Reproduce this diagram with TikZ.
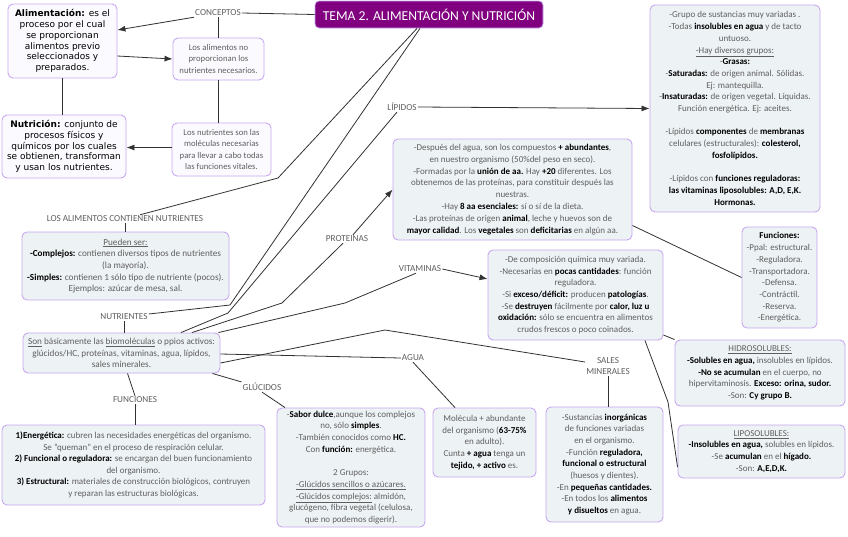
\documentclass[tikz,border=0pt]{standalone}
\usepackage{fontspec}
\setmainfont{Carlito}
\newfontfamily\vfont{DejaVu Sans}
\usetikzlibrary{arrows.meta}
\definecolor{boxb}{RGB}{200,168,240}
\definecolor{boxf}{RGB}{237,242,244}
\definecolor{wfill}{RGB}{251,250,254}
\definecolor{txt}{RGB}{95,95,95}
\definecolor{lnc}{RGB}{50,50,50}
\definecolor{ttl}{RGB}{128,0,128}
\newcommand{\bb}[1]{\textbf{\textcolor{black}{#1}}}
\begin{document}
\begin{tikzpicture}[x=1pt,y=-1pt,
  box/.style={draw=boxb, fill=boxf, rounded corners=5pt, line width=0.9pt, align=center, inner sep=0pt, text=txt, font={\fontsize{9}{11.6}\selectfont}},
  wbox/.style={box, fill=wfill, text=black, font={\vfont\fontsize{9}{10.8}\selectfont}},
  gbox/.style={box, fill=wfill, font={\fontsize{8.7}{11.5}\selectfont}},
  tbox/.style={draw=boxb, fill=ttl, rounded corners=4pt, line width=0.8pt, text=white, inner sep=0pt, font={\fontsize{13.6}{15}\selectfont}},
  lab/.style={text=txt, inner sep=1pt, align=center, font={\fontsize{9.2}{11.5}\selectfont}},
  conn/.style={draw=lnc, line width=0.8pt},
  arr/.style={conn, -{Latex[length=8pt,width=6pt]}}]
\useasboundingbox (0,0) rectangle (848,536);
\fill[white] (0,0) rectangle (848,536);

% title and labels
\node[tbox, minimum width=228pt, minimum height=27pt] (title) at (429,14.5) {TEMA 2. ALIMENTACIÓN Y NUTRICIÓN};
\node[lab] (concep) at (218,13) {CONCEPTOS};
\node[lab] (liplab) at (402,107) {LÍPIDOS};
\node[lab] (losal) at (125,219) {LOS ALIMENTOS CONTIENEN NUTRIENTES};
\node[lab] (nutlab) at (124,317) {NUTRIENTES};
\node[lab] (protlab) at (347,239) {PROTEINAS};
\node[lab] (vitlab) at (420,269) {VITAMINAS};
\node[lab] (agualab) at (413,358) {AGUA};
\node[lab] (salelab) at (608,366) {SALES\\MINERALES};
\node[lab] (gluclab) at (262,387) {GLÚCIDOS};
\node[lab] (funclab) at (135,400) {FUNCIONES};

% boxes
\node[wbox, minimum width=109pt, minimum height=74pt] (alim) at (62.5,41)
 {\textbf{Alimentación:} es el\\proceso por el cual\\se proporcionan\\alimentos previo\\seleccionados y\\preparados.};
\node[wbox, minimum width=124pt, minimum height=63pt] (nutri) at (64,146.5)
 {\textbf{Nutrición:} conjunto de\\procesos físicos y\\químicos por los cuales\\se obtienen, transforman\\y usan los nutrientes.};
\node[gbox, minimum width=91pt, minimum height=42pt] (noprop) at (218.5,59)
 {Los alimentos no\\proporcionan los\\nutrientes necesarios.};
\node[gbox, minimum width=99pt, minimum height=53pt] (molec) at (221.5,149.5)
 {Los nutrientes son las\\moléculas necesarias\\para llevar a cabo todas\\las funciones vitales.};

\node[box, minimum width=170pt, minimum height=207pt, font={\fontsize{9}{11.7}\selectfont}] (lipbox) at (735,108.5)
 {-Grupo de sustancias muy variadas .\\
  -Todas \bb{insolubles en agua} y de tacto\\
  untuoso.\\
  \underline{-Hay diversos grupos:}\\
  -\bb{Grasas:}\\
  -\bb{Saturadas:} de origen animal. Sólidas.\\
  Ej: mantequilla.\\
  -\bb{Insaturadas:} de origen vegetal. Líquidas.\\
  Función energética. Ej: aceites.\\[11.7pt]
  -Lípidos \bb{componentes} de \bb{membranas}\\
  celulares (estructurales): \bb{colesterol,}\\
  \bb{fosfolípidos.}\\[11.7pt]
  -Lípidos con \bb{funciones reguladoras:}\\
  \bb{las vitaminas liposolubles: A,D, E,K.}\\
  \bb{Hormonas.}};

\node[box, minimum width=239pt, minimum height=101pt, font={\fontsize{9}{11.9}\selectfont}] (protbox) at (512.5,189.5)
 {-Después del agua, son los compuestos \bb{+ abundantes},\\
  en nuestro organismo (50\%del peso en seco).\\
  -Formadas por la \bb{unión de aa.} Hay \bb{+20} diferentes. Los\\
  obtenemos de las proteínas, para constituir después las\\
  nuestras.\\
  -Hay \bb{8 aa esenciales:} sí o sí de la dieta.\\
  -Las proteínas de origen \bb{animal}, leche y huevos son de\\
  \bb{mayor calidad}. Los \bb{vegetales} son \bb{deficitarias} en algún aa.};

\node[box, minimum width=75pt, minimum height=101pt, font={\fontsize{9}{11.7}\selectfont}] (funcprot) at (779.5,277.5)
 {\bb{Funciones:}\\-Ppal: estructural.\\-Reguladora.\\-Transportadora.\\-Defensa.\\-Contráctil.\\-Reserva.\\-Energética.};

\node[box, minimum width=175pt, minimum height=90pt, font={\fontsize{9}{11.7}\selectfont}] (vitbox) at (575.5,295)
 {-De composición química muy variada.\\
  -Necesarias en \bb{pocas cantidades}: función\\
  reguladora.\\
  -Si \bb{exceso/déficit:} producen \bb{patologías}.\\
  -Se \bb{destruyen} fácilmente por \bb{calor, luz u}\\
  \bb{oxidación:} sólo se encuentra en alimentos\\
  crudos frescos o poco coinados.};

\node[box, minimum width=170pt, minimum height=66pt, font={\fontsize{9}{11.7}\selectfont}] (hidro) at (760,373)
 {\underline{HIDROSOLUBLES:}\\
  \bb{-Solubles en agua,} insolubles en lípidos.\\
  \bb{-No se acumulan} en el cuerpo, no\\
  hipervitaminosis. \bb{Exceso: orina, sudor.}\\
  -Son: \bb{Cy grupo B.}};

\node[box, minimum width=167pt, minimum height=53pt, font={\fontsize{9}{11.7}\selectfont}] (lipo) at (761.5,451.5)
 {\underline{LIPOSOLUBLES:}\\
  \bb{-Insolubles en agua,} solubles en lípidos.\\
  -Se \bb{acumulan} en el \bb{hígado.}\\
  -Son: \bb{A,E,D,K.}};

\node[box, minimum width=207pt, minimum height=68pt, font={\fontsize{9.2}{11.7}\selectfont}] (pueden) at (125.5,266)
 {\underline{Pueden ser:}\\
  \bb{-Complejos:} contienen diversos tipos de nutrientes\\
  (la mayoría).\\
  \bb{-Simples:} contienen 1 sólo tipo de nutriente (pocos).\\
  Ejemplos: azúcar de mesa, sal.};

\node[box, minimum width=197pt, minimum height=40pt, font={\fontsize{9.2}{11.7}\selectfont}] (son) at (121.5,353)
 {\underline{Son} básicamente las \underline{biomoléculas} o ppios activos:\\
  glúcidos/HC, proteínas, vitaminas, agua, lípidos,\\
  sales minerales.};

\node[box, minimum width=263pt, minimum height=80pt, font={\fontsize{9}{11.5}\selectfont}] (funcs) at (133.5,465)
 {\bb{1)Energética:} cubren las necesidades energéticas del organismo.\\
  Se "queman" en el proceso de respiración celular.\\
  \bb{2) Funcional o reguladora:} se encargan del buen funcionamiento\\
  del organismo.\\
  \bb{3) Estructural:} materiales de construcción biológicos, contruyen\\
  y reparan las estructuras biológicas.};

\node[box, minimum width=148pt, minimum height=119pt, font={\fontsize{9}{11.7}\selectfont}] (gluc) at (351,467.5)
 {-\bb{Sabor dulce},aunque los complejos\\
  no, sólo \bb{simples}.\\
  -También conocidos como \bb{HC.}\\
  Con \bb{función:} energética.\\[11.7pt]
  2 Grupos:\\
  \underline{-Glúcidos sencillos o azúcares.}\\
  \underline{-Glúcidos complejos:} almidón,\\
  glucógeno, fibra vegetal (celulosa,\\
  que no podemos digerir).};

\node[box, minimum width=103pt, minimum height=69pt, font={\fontsize{9}{11.7}\selectfont}] (agua) at (484.5,442.5)
 {Molécula + abundante\\
  del organismo (\bb{63-75\%}\\
  en adulto).\\
  Cunta \bb{+ agua} tenga un\\
  \bb{tejido, + activo} es.};

\node[box, minimum width=117pt, minimum height=115pt, font={\fontsize{9}{11.7}\selectfont}] (sales) at (604.5,464.5)
 {-Sustancias \bb{inorgánicas}\\
  de funciones variadas\\
  en el organismo.\\
  -Función \bb{reguladora,}\\
  \bb{funcional o estructural}\\
  (huesos y dientes).\\
  -En \bb{pequeñas cantidades.}\\
  -En todos los \bb{alimentos}\\
  \bb{y disueltos} en agua.};

% bend points
\coordinate (b1) at (278,178);
\coordinate (b2) at (230,305);
\coordinate (b3) at (228,313);
\coordinate (b4) at (282,303);
\coordinate (b5) at (345,303);
\coordinate (b6) at (385,330);
\coordinate (b7) at (668,402);

% connectors
\draw[conn] (concep.east) -- (title.west);
\draw[arr] (concep.south west) -- ([yshift=11pt]alim.east);
\draw[arr] ([yshift=-15pt]alim.east) -- (noprop.west);
\draw[conn] (alim.south) -- (alim.south |- nutri.north);
\draw[conn] (concep.south) -- (concep.south |- noprop.north);
\draw[conn] (noprop.south) -- (noprop.south |- molec.north);
\draw[arr] ([yshift=2pt]molec.west) -- ([yshift=2pt]molec.west -| nutri.east);

\draw[conn] ([xshift=-12pt]title.south) -- (b1) -- ([xshift=15pt]losal.north);
\draw[conn] ([xshift=-9pt]title.south) -- (b2) -- ([yshift=3pt]nutlab.east);
\draw[conn] ([xshift=-5pt]liplab.south) -- (b3) -- ([xshift=59.5pt]son.north);
\draw[conn] ([xshift=-4pt]protlab.south) -- (b4) -- ([xshift=70.5pt]son.north);
\draw[conn] ([xshift=-4pt]vitlab.south) -- (b5) -- ([xshift=-2pt]son.north east);
\draw[conn] ([yshift=-10pt]son.east) -- (b6) -- ([yshift=4pt]salelab.west);
\draw[conn] ([yshift=-1pt]son.east) -- (agualab.west);
\draw[conn] ([xshift=-8pt]son.south east) -- (gluclab.north west);
\draw[conn] ([xshift=6pt]son.south) -- (funclab.north);
\draw[conn] (funclab.south) -- (funclab.south |- funcs.north);
\draw[conn] (nutlab.south) -- (nutlab.south |- son.north);
\draw[conn] (losal.south) -- (losal.south |- pueden.north);
\draw[conn] (gluclab.south) -- ([xshift=-66pt]gluc.north);
\draw[conn] (agualab.south) -- ([xshift=-29.5pt]agua.north);
\draw[conn] (salelab.south) -- (salelab.south |- sales.north);
\draw[arr] (liplab.east) -- (lipbox.west);
\draw[arr] ([xshift=6pt]protlab.north) -- (protbox.west);
\draw[arr] (vitlab.east) -- ([yshift=16pt]vitbox.west);
\draw[conn] ([yshift=-36pt]protbox.east) -- (funcprot.west);
\draw[conn] ([yshift=-40pt]vitbox.east) -- (hidro.north west);
\draw[conn] ([xshift=-18.5pt]vitbox.south east) -- (b7) -- ([yshift=-15.5pt]lipo.west);
\end{tikzpicture}
\end{document}
